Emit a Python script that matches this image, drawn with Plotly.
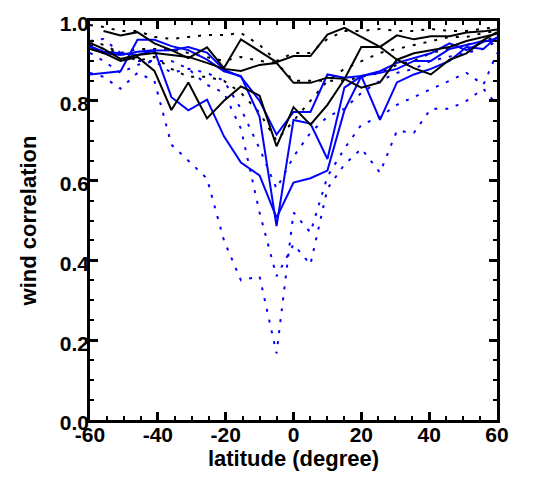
import plotly.graph_objects as go

lat = [-60, -56, -51, -46, -41, -36, -31, -25.5, -20.5, -15.5, -10, -5, 0,
       5, 10, 15, 20, 25.5, 30.5, 35.5, 40.5, 46, 51, 56, 60]

# black solid
bs1 = [None, 0.975, 0.964, 0.972, 0.944, 0.927, 0.907, 0.934, 0.882, 0.954, 0.925, 0.897, 0.912,
       0.912, 0.966, 0.983, 0.960, 0.935, 0.903, 0.882, 0.866, 0.903, 0.919, 0.952, 0.972]
bs2 = [0.945, 0.93, 0.905, 0.915, 0.92, 0.915, 0.91, 0.895, 0.88, 0.875, 0.89, 0.895, 0.845,
       0.845, 0.858, 0.855, 0.833, 0.846, 0.903, 0.919, 0.927, 0.935, 0.95, 0.96, 0.968]
bs3 = [0.93, 0.92, 0.90, 0.91, 0.875, 0.777, 0.846, 0.756, 0.80, 0.836, 0.813, 0.686, 0.784,
       0.74, 0.79, 0.854, 0.935, 0.935, 0.964, 0.954, 0.962, 0.962, 0.971, 0.974, 0.979]
# black dotted
kd1 = [0.99, 0.985, 0.975, 0.975, 0.96, 0.955, 0.96, 0.965, 0.965, 0.97, 0.94, 0.90, 0.92,
       0.92, 0.955, 0.975, 0.975, 0.98, 0.975, 0.975, 0.98, 0.975, 0.975, 0.98, 0.985]
kd2 = [0.95, 0.94, 0.92, 0.93, 0.93, 0.93, 0.92, 0.91, 0.90, 0.91, 0.90, 0.895, 0.85,
       0.85, 0.85, 0.85, 0.86, 0.87, 0.89, 0.90, 0.92, 0.93, 0.94, 0.95, 0.96]
kd3 = [0.94, 0.93, 0.92, 0.90, 0.91, 0.88, 0.86, 0.86, 0.85, 0.82, 0.77, 0.70, 0.75,
       0.80, 0.85, 0.88, 0.90, 0.92, 0.93, 0.94, 0.95, 0.96, 0.96, 0.97, 0.975]
# blue solid
bl1 = [0.937, 0.923, 0.919, 0.915, 0.926, 0.927, 0.935, 0.921, 0.878, 0.86, 0.80, 0.715, 0.772,
       0.772, 0.866, 0.858, 0.862, 0.87, 0.88, 0.90, 0.90, 0.93, 0.94, 0.95, 0.95]
bl2 = [0.866, 0.87, 0.874, 0.953, 0.953, 0.937, 0.927, 0.903, 0.874, 0.862, 0.76, 0.486, 0.752,
       0.743, 0.654, 0.833, 0.862, 0.752, 0.846, 0.866, 0.88, 0.90, 0.935, 0.93, 0.96]
bl3 = [0.935, 0.919, 0.915, 0.923, 0.927, 0.809, 0.776, 0.803, 0.711, 0.645, 0.613, 0.507, 0.595,
       0.606, 0.625, 0.776, 0.862, 0.874, 0.895, 0.907, 0.919, 0.944, 0.927, 0.948, 0.956]
# blue dotted
bd1 = [0.87, 0.86, 0.83, 0.87, 0.85, 0.69, 0.65, 0.605, 0.45, 0.35, 0.36, 0.167, 0.52,
       0.47, 0.61, 0.68, 0.74, 0.76, 0.79, 0.81, 0.83, 0.85, 0.87, 0.84, 0.92]
bd2 = [0.95, 0.955, 0.92, 0.90, 0.90, 0.90, 0.88, 0.84, 0.82, 0.73, 0.52, 0.36, 0.44,
       0.39, 0.58, 0.64, 0.68, 0.62, 0.725, 0.72, 0.78, 0.78, 0.80, 0.83, 0.79]
bd3 = [0.92, 0.90, 0.87, 0.89, 0.90, 0.87, 0.88, 0.87, 0.85, 0.78, 0.68, 0.58, 0.66,
       0.72, 0.76, 0.78, 0.82, 0.85, 0.87, 0.88, 0.90, 0.91, 0.92, 0.93, 0.95]

x_ticks = [-60, -40, -20, 0, 20, 40, 60]
x_ticktext = ["-60", "-40", "-20", "0", "20", "40", "60"]
y_ticks = [0, 0.2, 0.4, 0.6, 0.8, 1.0]
y_ticktext = ["0.0", "0.2", "0.4", "0.6", "0.8", "1.0"]

series = [
    (bd1, "blue", "dot"), (bd2, "blue", "dot"), (bd3, "blue", "dot"),
    (kd1, "black", "dot"), (kd2, "black", "dot"), (kd3, "black", "dot"),
    (bl1, "blue", "solid"), (bl2, "blue", "solid"), (bl3, "blue", "solid"),
    (bs1, "black", "solid"), (bs2, "black", "solid"), (bs3, "black", "solid"),
]

fig = go.Figure()
for ys, col, style in series:
    c = "#000000" if col == "black" else "#0000ff"
    dash = "solid" if style == "solid" else "3px,8px"
    fig.add_trace(go.Scatter(x=lat, y=ys, mode="lines", connectgaps=False,
                             line=dict(color=c, width=2, dash=dash),
                             showlegend=False, hoverinfo="skip"))

font = dict(family="Liberation Sans, Arial, sans-serif", size=21, color="black", weight="bold")
title_font = dict(family="Liberation Sans, Arial, sans-serif", size=22, color="black", weight="bold")
axis_common = dict(showline=True, linecolor="black", linewidth=2.5, mirror="allticks",
                   ticks="inside", ticklen=8, tickwidth=2.5, tickcolor="black",
                   showgrid=False, zeroline=False, tickfont=font)

fig.update_xaxes(range=[-60, 60], tickvals=x_ticks, ticktext=x_ticktext, **axis_common,
                 ticklabelstandoff=-6,
                 minor=dict(ticks="inside", ticklen=4, tickwidth=2, tickcolor="black", dtick=5, showgrid=False),
                 title=dict(text="latitude (degree)", font=title_font, standoff=0))
fig.update_yaxes(range=[0, 1], tickvals=y_ticks, ticktext=y_ticktext, **axis_common,
                 ticklabelstandoff=-6, ticklabelshift=3,
                 minor=dict(ticks="inside", ticklen=4, tickwidth=2, tickcolor="black", dtick=0.05, showgrid=False),
                 title=dict(text="wind correlation", font=title_font, standoff=18))

fig.update_layout(width=535, height=485, margin=dict(l=90, r=38, t=12, b=65),
                  plot_bgcolor="white", paper_bgcolor="white", font=font)
fig.write_html("out.html")
